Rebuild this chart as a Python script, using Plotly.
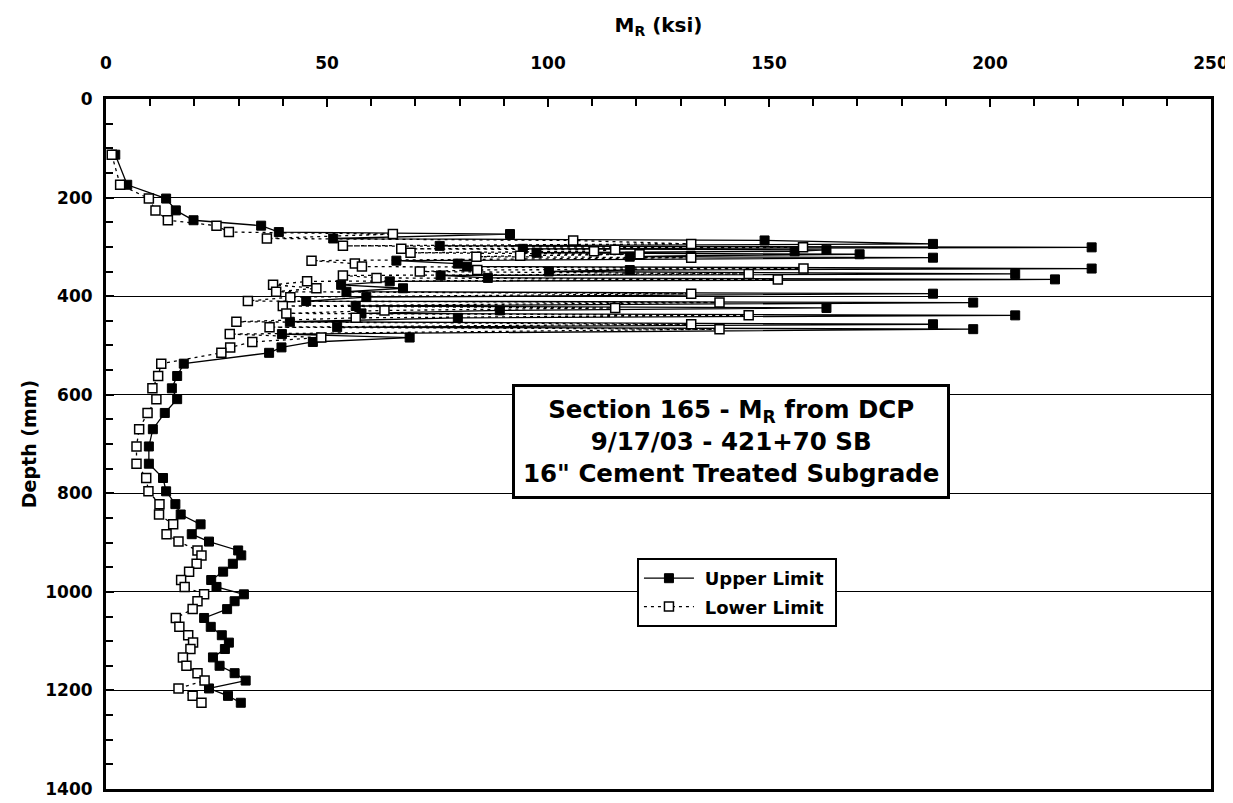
import plotly.graph_objects as go

depth_mm = [113, 174, 202, 226, 246, 257, 270, 274, 283, 287, 294, 298, 301, 304, 306, 309, 312, 315, 318, 320,
            322, 328, 334, 340, 344, 347, 350, 355, 358, 363, 366, 370, 377, 384, 391, 395, 402, 410, 413, 420,
            424, 429, 435, 439, 444, 452, 457, 463, 467, 477, 484, 493, 504, 515, 537, 562, 587, 609, 637, 670,
            705, 740, 769, 796, 822, 843, 863, 883, 898, 916, 926, 943, 959, 976, 990, 1005, 1019, 1035, 1053, 1071,
            1088, 1103, 1116, 1133, 1150, 1165, 1180, 1196, 1211, 1225]

upper_ksi = [2.1, 4.8, 13.6, 15.8, 19.8, 35.1, 39.1, 91.4, 51.4, 149.0, 187.1, 75.5, 223.0, 94.3, 163.0, 155.8, 97.4, 170.5, 132.3, 118.5,
             187.1, 65.7, 79.6, 81.7, 223.0, 118.5, 100.2, 205.7, 75.7, 86.4, 214.7, 64.2, 53.2, 67.2, 54.4, 187.1, 58.9, 45.3, 196.2, 56.5,
             163.0, 89.1, 57.8, 205.7, 79.6, 41.6, 187.1, 52.3, 196.2, 39.8, 68.7, 46.8, 39.7, 36.9, 17.6, 16.1, 14.9, 16.1, 13.3, 10.6,
             9.7, 9.7, 12.9, 13.6, 15.7, 16.9, 21.4, 19.4, 23.3, 29.9, 30.6, 28.7, 26.5, 23.8, 25.0, 31.2, 29.1, 27.4, 22.2, 23.7,
             26.2, 27.8, 26.9, 24.2, 25.7, 29.1, 31.6, 23.3, 27.6, 30.5]

lower_ksi = [1.3, 3.2, 9.7, 11.2, 14.0, 25.0, 27.8, 64.9, 36.4, 105.7, 132.4, 53.6, 157.7, 66.8, 115.2, 110.4, 68.9, 120.7, 93.7, 83.8,
             132.4, 46.5, 56.3, 57.9, 157.8, 84.0, 71.0, 145.4, 53.6, 61.2, 152.0, 45.5, 37.8, 47.6, 38.5, 132.4, 41.7, 32.1, 138.8, 40.0,
             115.2, 63.0, 40.8, 145.4, 56.5, 29.5, 132.4, 37.0, 138.8, 28.0, 48.7, 33.1, 28.1, 26.1, 12.5, 11.8, 10.5, 11.4, 9.4, 7.5,
             6.9, 6.9, 9.1, 9.6, 12.1, 12.0, 15.2, 13.7, 16.4, 20.7, 21.6, 20.5, 18.8, 17.0, 17.8, 22.2, 20.7, 19.6, 15.8, 16.6,
             18.6, 19.7, 19.1, 17.4, 18.2, 20.7, 22.3, 16.4, 19.6, 21.6]

x_ticks = [0, 50, 100, 150, 200, 250]
y_ticks = [0, 200, 400, 600, 800, 1000, 1200, 1400]

FONT = "DejaVu Sans, Liberation Sans, Arial, sans-serif"

fig = go.Figure()
fig.add_trace(go.Scatter(
    x=upper_ksi, y=depth_mm, mode="lines+markers", name="&nbsp;<b>Upper Limit</b>&nbsp;",
    legendgroup="u",
    line=dict(color="black", width=1.3),
    marker=dict(symbol="square", size=9, color="black", line=dict(color="black", width=1)),
))
fig.add_trace(go.Scatter(
    x=lower_ksi, y=depth_mm, mode="lines+markers", name="&nbsp;<b>Lower Limit</b>&nbsp;",
    legendgroup="l",
    line=dict(color="black", width=1.3, dash="3px,4px"),
    marker=dict(symbol="square", size=9, color="white", line=dict(color="black", width=1.5)),
))

fig.update_layout(
    width=1233, height=803,
    margin=dict(l=98, r=30, t=91, b=13),
    paper_bgcolor="white", plot_bgcolor="white",
    font=dict(family=FONT, color="black"),
    showlegend=True,
    legend=dict(x=0.4805, y=0.3348, xanchor="left", yanchor="top",
                bordercolor="black", borderwidth=2, bgcolor="white",
                font=dict(size=18, family=FONT, color="black"),
                tracegroupgap=2, itemwidth=50),
)

fig.update_xaxes(
    side="top", range=[0, 250], tickvals=x_ticks, ticktext=["<b>%d</b>" % v for v in x_ticks],
    showgrid=False, zeroline=False,
    showline=True, linecolor="black", linewidth=3, mirror=True,
    ticks="inside", ticklen=8, tickwidth=2, tickcolor="black",
    minor=dict(dtick=10, ticks="inside", ticklen=7, tickwidth=2, tickcolor="black", showgrid=False),
    tickfont=dict(size=17, family=FONT, color="black"),
    ticklabelstandoff=20,
    title=dict(text="<b>M<sub>R</sub> (ksi)</b>", font=dict(size=20, family=FONT, color="black"), standoff=16),
)
fig.update_yaxes(
    range=[1400, 0], tickvals=y_ticks, ticktext=["<b>%d</b>" % v for v in y_ticks],
    showgrid=True, gridcolor="black", gridwidth=1.3, zeroline=False,
    showline=True, linecolor="black", linewidth=3, mirror=True,
    ticks="inside", ticklen=8, tickwidth=2, tickcolor="black",
    minor=dict(dtick=50, ticks="inside", ticklen=7, tickwidth=2, tickcolor="black", showgrid=False),
    tickfont=dict(size=17, family=FONT, color="black"),
    ticklabelstandoff=7,
    title=dict(text="<b>Depth (mm)</b>", font=dict(size=19, family=FONT, color="black"), standoff=4),
)

fig.add_annotation(
    xref="paper", yref="paper", x=0.566, y=0.503, xanchor="center", yanchor="middle",
    text="<b>Section 165 - M<sub>R</sub> from DCP<br>9/17/03 - 421+70 SB<br>16\" Cement Treated Subgrade</b>",
    showarrow=False, align="center",
    font=dict(size=24.5, family=FONT, color="black"),
    bordercolor="black", borderwidth=3, borderpad=8, bgcolor="white",
)

fig.write_html("out.html")
